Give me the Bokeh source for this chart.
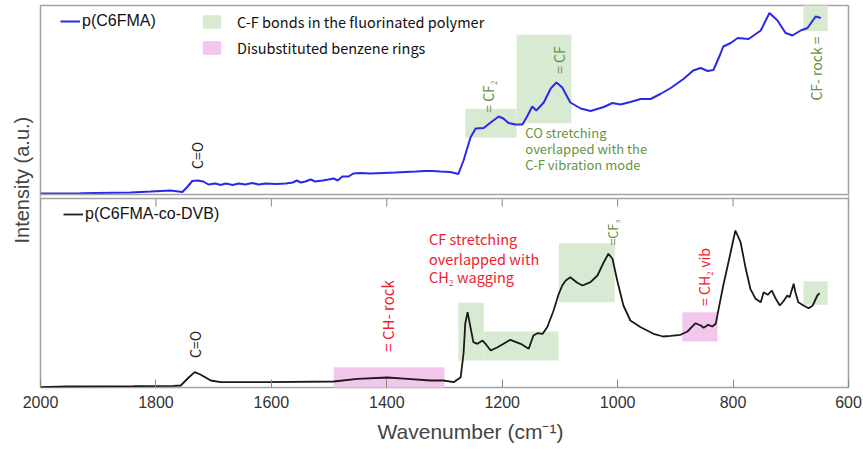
import math
from bokeh.plotting import figure
from bokeh.models import Range1d, FixedTicker, Label, Legend, LegendItem, Span, BoxAnnotation, Title
from bokeh.embed import file_html
from bokeh.resources import INLINE

# ---------------- data ----------------
x_ticks = [2000, 1800, 1600, 1400, 1200, 1000, 800, 600]

# p(C6FMA) spectrum (top panel)
wn_top = [2000, 1931, 1844, 1809, 1775, 1754, 1745, 1737, 1728, 1718, 1709, 1697, 1688, 1679,
          1667, 1657, 1645, 1633, 1622, 1610, 1593, 1575, 1563, 1556, 1549, 1541, 1532, 1524,
          1511, 1501, 1492, 1485, 1477, 1466, 1458, 1446, 1428, 1406, 1385, 1368, 1350, 1333,
          1321, 1307, 1290, 1276, 1267, 1255, 1246, 1232, 1220, 1206, 1198, 1189, 1177, 1165,
          1156, 1148, 1141, 1128, 1116, 1106, 1096, 1082, 1064, 1047, 1024, 1009, 995, 978,
          960, 943, 926, 908, 886, 869, 856, 844, 834, 822, 817, 804, 792, 773, 752, 737, 723,
          709, 697, 683, 671, 657, 648]
int_top = [1, 1.3, 2, 3, 4, 2.5, 8, 13.5, 14, 13, 10, 11, 9.5, 11,
           9.5, 11, 10, 11.5, 10, 11, 10.5, 11, 12, 14, 12, 13, 15, 13,
           14, 15, 16, 14, 18, 18, 21, 21.5, 21, 21.5, 22, 22.5, 23, 23.5,
           23.5, 23, 22.5, 20.5, 34, 57, 66, 66.5, 72, 78, 76, 71.5, 70, 70,
           79, 88, 84, 92, 106, 112, 107, 92, 86, 83.5, 87.5, 91.5, 90, 92.5,
           95.5, 95.5, 100.5, 106.5, 115.5, 124, 126.5, 123.5, 124.5, 140.5, 148, 151.5, 156.5, 155.5, 164, 181.5, 174,
           161.5, 159, 164, 166.5, 178, 176.5]

# p(C6FMA-co-DVB) spectrum (bottom panel)
wn_bot = [2000, 1953, 1839, 1770, 1757, 1745, 1733, 1723, 1705, 1688, 1607, 1492, 1451, 1399,
          1364, 1324, 1302, 1284, 1272, 1267, 1264, 1260, 1255, 1250, 1243, 1234, 1229, 1220,
          1208, 1186, 1168, 1154, 1146, 1139, 1130, 1122, 1111, 1102, 1096, 1090, 1082, 1070,
          1061, 1047, 1035, 1024, 1016, 1009, 1000, 990, 978, 960, 938, 921, 908, 891, 879,
          865, 856, 851, 843, 836, 830, 825, 817, 808, 796, 787, 778, 770, 761, 752, 747, 740,
          733, 726, 719, 713, 706, 702, 695, 692, 687, 678, 669, 662, 654, 650]
int_bot = [0.3, 1, 1.3, 1.7, 2, 9, 15.3, 13, 7, 5.3, 5.3, 6, 8.7, 10,
           8.7, 7, 7, 5.3, 10.3, 34, 64, 75.3, 60.3, 45.3, 43.7, 47, 43.7, 37,
           40.3, 47.7, 43.7, 38.7, 52, 54.3, 53.7, 60.3, 77, 93.7, 102, 107, 110.3, 104.7,
           102, 105.3, 112, 125.3, 133.7, 128.7, 105.3, 82, 67, 60.3, 53.7, 51, 51.7, 52.7, 56,
           64.3, 62, 59.7, 62.7, 61, 63.7, 78.7, 102, 125.3, 157, 145.3, 118.7, 98.7, 88.7, 85.3, 95.3, 92.7,
           97, 88.7, 82, 86, 92, 90.3, 103.7, 95.3, 85.3, 82, 79.3, 82, 92, 94.3]

# highlighted bands (wavenumber from/to, intensity from/to)
cf_top_from = [1264, 1175, 678]
cf_top_to = [1175, 1080, 636]
cf_top_low = [56.7, 71.3, 163.3]
cf_top_high = [85.7, 159.7, 190]

cf_bot_from = [1276, 1232, 1102, 678]
cf_bot_to = [1232, 1102.5, 1005, 636]
cf_bot_low = [27, 27, 85.3, 82.7]
cf_bot_high = [84.7, 56, 144.3, 106.3]

bz_bot_from = [1492, 888]
bz_bot_to = [1300, 827]
bz_bot_low = [-2, 46]
bz_bot_high = [20.3, 75.3]

# ---------------- style ----------------
GREEN = "#d9ead3"
PINK = "#f3c7ec"
GTXT = "#62943f"
RTXT = "#f0202e"
BLUE = "#2a2ae6"
FRAME = "#a3a3a3"
AFONT = "Noto Sans CJK KR"
SFONT = "Liberation Sans"

p = figure(frame_width=808, frame_height=382,
           x_range=Range1d(2000, 600), y_range=Range1d(0, 382),
           output_backend="svg", toolbar_location=None,
           min_border_left=40, min_border_right=15, min_border_top=5, min_border_bottom=68)
p.extra_y_ranges = {"top": Range1d(-193, 189)}
p.yaxis.visible = False
p.xgrid.visible = False
p.ygrid.visible = False
p.outline_line_color = FRAME
p.outline_line_width = 1.5
p.background_fill_color = "white"
p.border_fill_color = "white"

ax = p.xaxis[0]
ax.ticker = FixedTicker(ticks=x_ticks)
ax.major_tick_in = 8
ax.major_tick_out = 0
ax.minor_tick_line_color = None
ax.axis_line_color = None
ax.major_tick_line_color = "#888888"
ax.major_label_text_font = SFONT
ax.major_label_text_font_size = "16px"
ax.major_label_text_color = "#333333"
ax.major_label_standoff = 8

# axis titles as offset titles
p.add_layout(Title(text="Wavenumber (cm\u207b\u00b9)", align="left", offset=337, standoff=15,
                   text_font=SFONT, text_font_size="21px", text_font_style="normal",
                   text_color="#444444"), "below")
p.add_layout(Title(text="Intensity (a.u.)", align="left", offset=144, standoff=12,
                   vertical_align="top",
                   text_font=SFONT, text_font_size="20px", text_font_style="normal",
                   text_color="#444444"), "left")

# bands
g_top = p.quad(left=cf_top_from, right=cf_top_to, bottom=cf_top_low, top=cf_top_high,
               y_range_name="top", fill_color=GREEN, line_color=None)
g_bot = p.quad(left=cf_bot_from, right=cf_bot_to, bottom=cf_bot_low, top=cf_bot_high,
               fill_color=GREEN, line_color=None)
pk_bot = p.quad(left=bz_bot_from, right=bz_bot_to, bottom=bz_bot_low, top=bz_bot_high,
                fill_color=PINK, line_color=None)

# spectra
l_top = p.line(wn_top, int_top, y_range_name="top", line_color=BLUE, line_width=2)
l_bot = p.line(wn_bot, int_bot, line_color="#1a1a1a", line_width=1.8)

# separation between the two panels
p.add_layout(BoxAnnotation(bottom=189, top=193, fill_color="white", fill_alpha=1.0, line_color=None))
p.add_layout(Span(location=189, dimension="width", line_color=FRAME, line_width=1.5))
p.add_layout(Span(location=193, dimension="width", line_color=FRAME, line_width=1.5))
p.segment(x0=x_ticks, y0=[189] * len(x_ticks), x1=x_ticks, y1=[181] * len(x_ticks),
          line_color="#888888", line_width=1)

# legends
def mk_legend(items, loc, gw, gh, standoff, font, size, spacing=0):
    lg = Legend(items=items, location=loc, glyph_width=gw, glyph_height=gh, label_height=gh,
                label_standoff=standoff, padding=0, margin=0, spacing=spacing,
                border_line_color=None, background_fill_alpha=0,
                label_text_font=font, label_text_font_size=size, label_text_color="#111111")
    p.add_layout(lg)

mk_legend([LegendItem(label="p(C6FMA)", renderers=[l_top])], (20, 357), 20, 18, 2, SFONT, "16px")
mk_legend([LegendItem(label="p(C6FMA-co-DVB)", renderers=[l_bot])], (23, 164), 20, 18, 2, SFONT, "16px")
mk_legend([LegendItem(label="C-F bonds in the fluorinated polymer", renderers=[g_top]),
           LegendItem(label="Disubstituted benzene rings", renderers=[pk_bot])],
          (160, 329), 23, 17, 14, AFONT, "14.5px", spacing=5)

# annotations
def lab(text, x, y, size, color, rot=False, rng="default", align="center", font=AFONT):
    p.add_layout(Label(x=x, y=y, text=text, y_range_name=rng, angle=(math.pi / 2 if rot else 0),
                       text_align=align, text_baseline="middle", text_font=font,
                       text_font_size=size, text_color=color))

lab("C=O", 1728, 39, "14px", "#222222", rot=True, rng="top")
lab("= CF\u2082", 1225, 98, "14px", GTXT, rot=True, rng="top")
lab("= CF", 1102, 134.5, "14px", GTXT, rot=True, rng="top")
lab("CF- rock =", 657, 126, "14px", GTXT, rot=True, rng="top")
lab("CO stretching", 1160, 62, "13px", GTXT, rng="top", align="left")
lab("overlapped with the", 1160, 46, "13px", GTXT, rng="top", align="left")
lab("C-F vibration mode", 1160, 30.5, "13px", GTXT, rng="top", align="left")

lab("C=O", 1733, 43, "14px", "#222222", rot=True)
lab("= CH- rock", 1399, 71.5, "15px", RTXT, rot=True)
lab("CF stretching", 1327, 149, "14.5px", RTXT, align="left")
lab("overlapped with", 1327, 129.5, "14.5px", RTXT, align="left")
lab("CH\u2082 wagging", 1327, 111, "14.5px", RTXT, align="left")
lab("=CF\u2083", 1009, 155, "12.5px", GTXT, rot=True)
lab("= CH\u2082 vib", 851, 110.5, "14px", RTXT, rot=True)

open("out.html", "w").write(file_html(p, INLINE))
